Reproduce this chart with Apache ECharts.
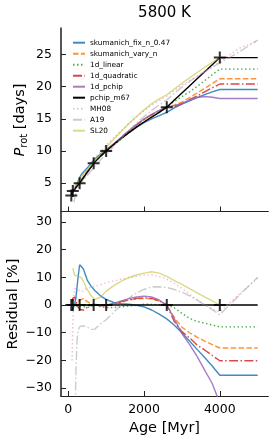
<!DOCTYPE html>
<html><head><meta charset="utf-8">
<script src="https://cdn.jsdelivr.net/npm/echarts@6/dist/echarts.min.js"></script>
<style>html,body{margin:0;padding:0;background:#fff}#c{width:274px;height:443px}</style>
</head><body><div id="c"></div>
<script>
// ---- data ----
const ages = [80, 100, 120, 150, 175, 200, 225, 250, 300, 350, 400, 500, 600, 700, 850, 1000, 1200, 1400, 1600, 1800, 2000, 2200, 2400, 2600, 2800, 3000, 3200, 3400, 3600, 3800, 4000, 4500, 5000];

const clusterAges = [80, 120, 300, 670, 1000, 2600, 4000];
const clusterProt = [3.1, 3.8, 5.0, 8.1, 10.0, 16.8, 24.5];
const clusterResid = [0, 0, 0, 0, 0, 0, 0];

const seriesNames = ['skumanich_fix_n_0.47', 'skumanich_vary_n', '1d_linear', '1d_quadratic', '1d_pchip', 'pchip_m67', 'MH08', 'A19', 'SL20'];

// rotation period [days]
const skumFixP = [null, 3.38, 3.74, 3.93, 4.14, 4.41, 4.76, 5.16, 5.85, 6.40, 6.72, 7.36, 8.05, 8.76, 9.51, 10.2, 11.1, 12.01, 12.89, 13.69, 14.4, 14.98, 15.49, 16.0, 16.68, 17.27, 17.79, 18.28, 18.76, 19.18, 19.55, 19.55, 19.55];
const skumVaryP = [null, 3.45, 3.82, 3.97, 4.11, 4.3, 4.51, 4.75, 5.09, 5.58, 5.99, 6.8, 7.54, 8.3, 9.17, 9.98, 11.06, 12.09, 13.09, 14.01, 14.86, 15.59, 16.23, 16.8, 17.13, 17.59, 18.27, 19.0, 19.73, 20.47, 21.21, 21.21, 21.21];
const linearP = [null, 3.45, 3.8, 3.94, 4.08, 4.27, 4.48, 4.69, 5.0, 5.43, 5.81, 6.64, 7.46, 8.3, 9.15, 9.91, 10.9, 11.87, 12.8, 13.69, 14.54, 15.28, 16.02, 16.8, 17.72, 18.45, 19.18, 20.02, 20.92, 21.83, 22.71, 22.71, 22.71];
const quadP = [null, 3.48, 3.9, 4.08, 4.22, 4.37, 4.51, 4.67, 4.93, 5.35, 5.74, 6.65, 7.5, 8.32, 9.2, 9.98, 11.04, 12.1, 13.1, 14.04, 14.89, 15.63, 16.24, 16.8, 16.89, 17.34, 17.98, 18.53, 19.19, 19.8, 20.4, 20.4, 20.4];
const pchipP = [null, 3.45, 3.8, 3.95, 4.1, 4.3, 4.5, 4.7, 5.0, 5.45, 5.85, 6.7, 7.5, 8.3, 9.17, 9.99, 11.07, 12.13, 13.15, 14.11, 14.98, 15.7, 16.29, 16.8, 17.05, 17.4, 17.9, 18.3, 18.45, 18.35, 18.15, 18.15, 18.15];
const pchipM67P = [3.1, 3.45, 3.8, 3.95, 4.1, 4.3, 4.5, 4.7, 5.0, 5.45, 5.85, 6.7, 7.5, 8.3, 9.2, 10.0, 11.0, 11.95, 12.85, 13.7, 14.5, 15.25, 16.0, 16.8, 17.9, 19.0, 20.1, 21.2, 22.3, 23.4, 24.5, 24.5, 24.5];
const mh08P = [null, 2.88, 3.58, 4.07, 4.36, 4.6, 4.79, 4.97, 5.27, 5.75, 6.19, 7.13, 8.01, 8.9, 9.92, 10.87, 12.05, 13.18, 14.25, 15.27, 16.26, 17.12, 17.82, 18.52, 19.42, 20.21, 20.92, 21.59, 22.3, 23.05, 23.9, 25.9, 27.13];
const a19P = [null, null, null, 2.0, 2.83, 3.44, 3.91, 4.29, 4.64, 5.07, 5.44, 6.2, 6.89, 7.64, 8.61, 9.5, 10.72, 11.95, 13.18, 14.32, 15.36, 16.31, 17.13, 17.93, 18.96, 19.92, 20.79, 21.59, 22.32, 23.01, 23.67, 25.34, 27.22];
const sl20P = [null, null, 4.38, 4.46, 4.59, 4.79, 5.02, 5.26, 5.61, 6.04, 6.39, 7.09, 7.76, 8.47, 9.47, 10.53, 11.83, 13.07, 14.26, 15.36, 16.38, 17.33, 18.08, 18.73, 19.63, 20.52, 21.36, 22.18, 22.97, 23.76, 24.5, null, null];

// residual [%]
const skumFixR = [null, -2, -1.5, -0.5, 1, 2.5, 5.5, 9, 14.5, 14.8, 13, 9, 6.8, 5.2, 3.3, 2.0, 0.9, 0.5, 0.3, -0.1, -0.7, -1.8, -3.3, -5, -7.3, -10, -13, -16, -18.9, -22, -25.3, -25.3, -25.3];
const skumVaryR = [null, 0, 0.5, 0.5, 0.3, 0, 0.3, 1.0, 1.8, 2.3, 2.3, 1.2, 0.5, 0, -0.3, -0.2, 0.5, 1.2, 1.8, 2.2, 2.4, 2.2, 1.4, 0, -4.5, -8.0, -10.0, -11.6, -13.0, -14.3, -15.5, -15.5, -15.5];
const linearR = [null, 0, 0, -0.3, -0.5, -0.6, -0.5, -0.3, 0, -0.4, -0.7, -0.9, -0.5, 0, -0.6, -0.9, -0.9, -0.7, -0.4, -0.1, 0.3, 0.2, 0.1, 0, -1.0, -3.0, -4.8, -5.9, -6.6, -7.2, -7.9, -7.9, -7.9];
const quadR = [null, 1.0, 2.5, 3.1, 2.8, 1.5, 0.3, -0.6, -1.5, -1.8, -1.9, -0.8, 0, 0.2, 0, -0.2, 0.4, 1.2, 1.9, 2.4, 2.6, 2.4, 1.5, 0, -6.0, -9.6, -11.8, -14.4, -16.2, -18.2, -20.1, -20.1, -20.1];
const pchipR = [null, 0, 0, 0, 0, 0, 0, 0, 0, 0, 0, 0, 0, 0, -0.3, -0.1, 0.6, 1.5, 2.3, 2.9, 3.2, 2.9, 1.8, 0, -5, -10.3, -14.2, -18.5, -23.5, -28.3, -35.4, -35.4, -35.4];
const pchipM67R = [0, 0, 0, 0, 0, 0, 0, 0, 0, 0, 0, 0, 0, 0, 0, 0, 0, 0, 0, 0, 0, 0, 0, 0, 0, 0, 0, 0, 0, 0, 0, 0, 0];
const mh08R = [null, -20, -6, 3, 6, 6.5, 6, 5.5, 5.2, 4.8, 5.0, 6, 6.4, 6.7, 7.3, 8.0, 8.7, 9.3, 9.8, 10.3, 10.8, 10.9, 10.2, 9.3, 7.8, 6.0, 3.9, 1.8, 0, -1.5, -2.5, 3.7, 9.7];
const a19R = [null, null, null, -97, -45, -25, -15, -9.5, -7.8, -7.4, -7.5, -8, -8.8, -8.7, -6.8, -5.3, -2.6, 0, 2.5, 4.3, 5.6, 6.5, 6.6, 6.3, 5.6, 4.6, 3.3, 1.8, 0.1, -1.7, -3.5, 3.3, 10];
const sl20R = [null, null, 13.3, 11.5, 10.6, 10.2, 10.4, 10.6, 10.9, 9.8, 8.5, 5.5, 3.4, 2.0, 2.8, 5.0, 7.0, 8.6, 9.9, 10.8, 11.5, 12.0, 11.5, 10.3, 8.8, 7.4, 5.9, 4.4, 2.9, 1.5, 0, null, null];

const xTicks = [0, 2000, 4000];
const pTicks = [5, 10, 15, 20, 25];
const rTicks = [-30, -20, -10, 0, 10, 20, 30];

// ---- styling ----
const FONT = 'DejaVu Sans';
const styles = [
  {color: '#1f77b4', type: 'solid', opacity: 0.85},
  {color: '#ff7f0e', type: [5.5, 2.4], opacity: 0.85},
  {color: '#2ca02c', type: [1.5, 2.5], opacity: 0.85},
  {color: '#d62728', type: [9, 2.4, 1.5, 2.4], opacity: 0.85},
  {color: '#9467bd', type: 'solid', opacity: 0.85},
  {color: '#000000', type: 'solid', opacity: 1},
  {color: '#e377c2', type: [1.5, 2.5], opacity: 0.5},
  {color: '#9a9a9a', type: [9, 2.4, 1.5, 2.4], opacity: 0.5},
  {color: '#bcbd22', type: 'solid', opacity: 0.55}
];
const topData = [skumFixP, skumVaryP, linearP, quadP, pchipP, pchipM67P, mh08P, a19P, sl20P];
const resData = [skumFixR, skumVaryR, linearR, quadR, pchipR, pchipM67R, mh08R, a19R, sl20R];

function pairs(xs, ys) {
  const out = [];
  for (let i = 0; i < xs.length; i++) if (ys[i] !== null) out.push([xs[i], ys[i]]);
  return out;
}

const series = [];
[topData, resData].forEach((set, panel) => {
  set.forEach((arr, k) => {
    const st = styles[k];
    series.push({
      type: 'line', name: seriesNames[k], xAxisIndex: panel, yAxisIndex: panel,
      data: pairs(ages, arr), symbol: 'none', silent: true, clip: true,
      color: st.color,
      lineStyle: {color: st.color, width: 1.4, type: st.type, opacity: st.opacity},
      itemStyle: {color: st.color, opacity: st.opacity}
    });
  });
});
const plusPath = 'path://M5,0H7V5H12V7H7V12H5V7H0V5H5Z';
series.push({type: 'scatter', name: 'clusters', xAxisIndex: 0, yAxisIndex: 0, data: pairs(clusterAges, clusterProt),
  symbol: plusPath, symbolSize: 12, itemStyle: {color: '#000'}, z: 10, silent: true});
series.push({type: 'scatter', name: 'clustersR', xAxisIndex: 1, yAxisIndex: 1, data: pairs(clusterAges, clusterResid),
  symbol: plusPath, symbolSize: 12, itemStyle: {color: '#000'}, z: 10, silent: true});

const fmt = v => String(v).replace('-', '\u2212');

function xAxis(idx, showLabels) {
  return {
    type: 'value', gridIndex: idx, min: -192, max: 5280,
    splitLine: {show: false},
    axisLine: {show: true, onZero: false, lineStyle: {color: '#222', width: 1.2}},
    axisTick: {show: true, inside: true, length: 5, customValues: xTicks, lineStyle: {color: '#222', width: 1}},
    axisLabel: {show: showLabels, customValues: xTicks, fontSize: 12.5, fontFamily: FONT, color: '#000', margin: 7, formatter: fmt}
  };
}
function yAxis(idx, min, max, ticks) {
  return {
    type: 'value', gridIndex: idx, min: min, max: max,
    splitLine: {show: false},
    axisLine: {show: true, onZero: false, lineStyle: {color: '#555', width: 2}},
    axisTick: {show: true, inside: true, length: 5, customValues: ticks, lineStyle: {color: '#222', width: 1}},
    axisLabel: {show: true, customValues: ticks, fontSize: 12.5, fontFamily: FONT, color: '#000', margin: 9, formatter: fmt}
  };
}

const option = {
  animation: false,
  backgroundColor: '#fff',
  grid: [
    {left: 61, top: 28.3, width: 207.3, height: 183.2},
    {left: 61, top: 211.5, width: 207.3, height: 184.5}
  ],
  xAxis: [xAxis(0, false), xAxis(1, true)],
  yAxis: [yAxis(0, 0.6, 29.05, pTicks), yAxis(1, -32.8, 33.7, rTicks)],
  legend: {
    data: seriesNames, orient: 'vertical', left: 72, top: 39.2, padding: 0,
    itemWidth: 12, itemHeight: 7, itemGap: 4, selectedMode: false,
    itemStyle: {opacity: 0, borderWidth: 0},
    textStyle: {fontSize: 7.3, fontFamily: FONT, color: '#000', lineHeight: 7}
  },
  graphic: [
    {type: 'text', x: 164.5, y: 13, style: {text: '5800 K', font: '15px "DejaVu Sans"', fill: '#000', align: 'center', verticalAlign: 'middle'}},
    {type: 'text', x: 164.5, y: 428, style: {text: 'Age [Myr]', font: '14.5px "DejaVu Sans"', fill: '#000', align: 'center', verticalAlign: 'middle'}},
    {type: 'text', x: 13, y: 304, rotation: Math.PI / 2, style: {text: 'Residual [%]', font: '14.5px "DejaVu Sans"', fill: '#000', align: 'center', verticalAlign: 'middle'}},
    {type: 'text', x: 20.5, y: 120, rotation: Math.PI / 2, style: {
      text: '{i|P}{s|rot}{n| [days]}', align: 'center', verticalAlign: 'middle', fill: '#000',
      rich: {
        i: {fontSize: 14.5, fontFamily: FONT, fontStyle: 'italic', lineHeight: 18, verticalAlign: 'middle'},
        s: {fontSize: 10, fontFamily: FONT, lineHeight: 10, verticalAlign: 'bottom'},
        n: {fontSize: 14.5, fontFamily: FONT, lineHeight: 18, verticalAlign: 'middle'}
      }
    }}
  ],
  series: series
};
const chart = echarts.init(document.getElementById('c'), null, {renderer: 'canvas'});
chart.setOption(option);
</script></body></html>
